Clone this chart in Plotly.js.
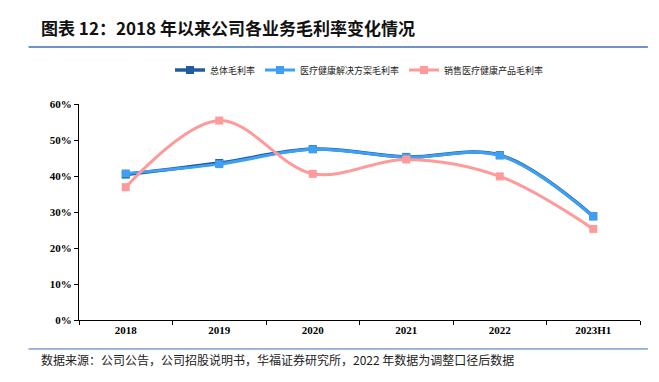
<!DOCTYPE html>
<html>
<head>
<meta charset="utf-8">
<script src="https://cdn.plot.ly/plotly-3.0.1.min.js"></script>
<style>html,body{margin:0;padding:0;background:#fff;}#chart{width:659px;height:382px;}</style>
</head>
<body>
<div id="chart"></div>
<script>
const categories = ['2018', '2019', '2020', '2021', '2022', '2023H1'];
const totalMargin = [40.4, 43.6, 47.5, 45.3, 45.8, 28.8];
const solutionMargin = [40.7, 43.3, 47.4, 45.2, 45.7, 28.8];
const productMargin = [36.9, 55.4, 40.6, 44.6, 39.9, 25.3];
const seriesNames = ['总体毛利率', '医疗健康解决方案毛利率', '销售医疗健康产品毛利率'];
const yTickVals = [0, 10, 20, 30, 40, 50, 60];
const yTickText = ['0%', '10%', '20%', '30%', '40%', '50%', '60%'];

const colors = ['#1E5C9E', '#3FA0F3', '#FF9A9A'];
const seriesData = [totalMargin, solutionMargin, productMargin];

const traces = seriesData.map((vals, i) => ({
  type: 'scatter',
  mode: 'lines+markers',
  x: categories,
  y: vals,
  name: seriesNames[i],
  line: {color: colors[i], width: i === 0 ? 3.5 : 3, shape: 'spline', smoothing: 1},
  marker: {symbol: 'square', size: 8, color: colors[i]}
}));

const layout = {
  width: 659,
  height: 382,
  margin: {l: 79, r: 19, t: 104, b: 62},
  paper_bgcolor: '#ffffff',
  plot_bgcolor: '#ffffff',
  showlegend: true,
  legend: {
    orientation: 'h',
    x: 0.5, xanchor: 'center',
    y: 1.157, yanchor: 'middle',
    font: {family: 'Noto Sans CJK SC', size: 9, color: '#222'},
    itemwidth: 30,
    tracegroupgap: 0
  },
  xaxis: {
    type: 'category',
    range: [-0.5, categories.length - 0.5],
    showgrid: false,
    showline: true,
    linecolor: '#000',
    linewidth: 1,
    ticks: 'outside',
    tickson: 'boundaries',
    ticklen: 4,
    tickcolor: '#000',
    tickfont: {family: 'Liberation Serif', size: 11, color: '#000', weight: 'bold'},
    zeroline: false,
    fixedrange: true
  },
  yaxis: {
    range: [0, 60],
    tickvals: yTickVals,
    ticktext: yTickText,
    showgrid: false,
    showline: true,
    linecolor: '#000',
    linewidth: 1,
    ticks: 'outside',
    ticklen: 4,
    tickcolor: '#000',
    tickfont: {family: 'Liberation Serif', size: 11, color: '#000', weight: 'bold'},
    zeroline: false,
    fixedrange: true
  },
  shapes: [
    {type: 'line', xref: 'paper', yref: 'paper', x0: -0.09, x1: 1.014, y0: 1.264, y1: 1.264,
     line: {color: '#3F6EB5', width: 1.5}},
    {type: 'line', xref: 'paper', yref: 'paper', x0: -0.09, x1: 1.014, y0: -0.134, y1: -0.134,
     line: {color: '#3F6EB5', width: 1}}
  ],
  annotations: [
    {text: '<b>图表 12：2018 年以来公司各业务毛利率变化情况</b>', xref: 'paper', yref: 'paper',
     x: -0.072, y: 1.352, xanchor: 'left', yanchor: 'middle', showarrow: false,
     font: {family: 'Noto Sans CJK SC', size: 17, color: '#111'}},
    {text: '数据来源：公司公告，公司招股说明书，华福证券研究所，2022 年数据为调整口径后数据', xref: 'paper', yref: 'paper',
     x: -0.072, y: -0.185, xanchor: 'left', yanchor: 'middle', showarrow: false,
     font: {family: 'Noto Sans CJK SC', size: 12, color: '#222'}}
  ]
};

Plotly.newPlot('chart', traces, layout, {displayModeBar: false, staticPlot: true});
</script>
</body>
</html>
